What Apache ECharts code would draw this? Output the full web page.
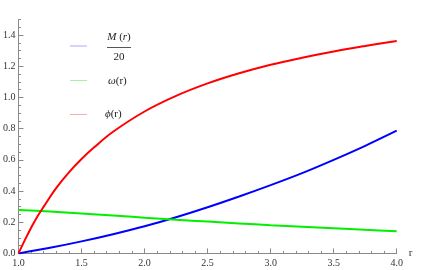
<!DOCTYPE html>
<html>
<head>
<meta charset="utf-8">
<script src="https://cdn.jsdelivr.net/npm/echarts@6/dist/echarts.min.js"></script>
<style>
html,body{margin:0;padding:0;background:#fff;}
#c{width:436px;height:270px;}
</style>
</head>
<body>
<div id="c"></div>
<script>
// Data
const rMass = [1.0, 1.25, 1.5, 1.75, 2.0, 2.25, 2.5, 2.75, 3.0, 3.25, 3.5, 3.75, 4.0];
const massOver20 = [0, 0.036, 0.077, 0.123, 0.174, 0.232, 0.296, 0.365, 0.438, 0.515, 0.6, 0.69, 0.787];

const rOmega = [1.0, 1.25, 1.5, 1.75, 2.0, 2.25, 2.5, 2.75, 3.0, 3.25, 3.5, 3.75, 4.0];
const omega = [0.279, 0.268, 0.256, 0.243, 0.229, 0.216, 0.204, 0.192, 0.181, 0.171, 0.161, 0.151, 0.142];

const rPhi = [1.0, 1.05, 1.1, 1.15, 1.2, 1.3, 1.4, 1.5, 1.6, 1.75, 2.0, 2.25, 2.5, 2.75, 3.0, 3.25, 3.5, 3.75, 4.0];
const phi = [0, 0.085, 0.165, 0.237, 0.30, 0.42, 0.52, 0.605, 0.68, 0.78, 0.91, 1.01, 1.09, 1.155, 1.21, 1.255, 1.295, 1.33, 1.362];

const xTicks = [1.0, 1.5, 2.0, 2.5, 3.0, 3.5, 4.0];
const yTicks = [0, 0.2, 0.4, 0.6, 0.8, 1.0, 1.2, 1.4];

const zip = (xs, ys) => xs.map((x, i) => [x, ys[i]]);

const chart = echarts.init(document.getElementById('c'), null, {renderer: 'canvas'});
const labelFont = {fontFamily: 'Liberation Serif', fontSize: 10, color: '#333'};
const tickColor = '#8a8a8a';
const ital = {fontStyle: 'italic', fontFamily: 'Liberation Serif', fontSize: 11, fill: '#222'};

chart.setOption({
  animation: false,
  grid: {left: 18, right: 39.3, top: 19.5, bottom: 16.6, containLabel: false},
  xAxis: {
    type: 'value', min: 1, max: 4, interval: 0.5,
    name: 'r', nameLocation: 'end', nameGap: 5,
    nameTextStyle: {fontFamily: 'Liberation Serif', fontSize: 11, color: '#333', verticalAlign: 'middle'},
    axisLine: {show: true, onZero: false, lineStyle: {color: tickColor, width: 1}},
    axisTick: {show: true, inside: true, length: 5, lineStyle: {color: tickColor}},
    minorTick: {show: true, splitNumber: 5, length: 2.5, lineStyle: {color: tickColor}},
    splitLine: {show: false},
    axisLabel: Object.assign({margin: 5, formatter: v => v.toFixed(1),
      customValues: xTicks}, labelFont)
  },
  yAxis: [{
    type: 'value', min: 0, max: 1.5, interval: 0.05, position: 'left',
    axisLine: {show: true, onZero: false, lineStyle: {color: tickColor, width: 1}},
    axisTick: {show: true, inside: true, length: 5, customValues: yTicks, lineStyle: {color: tickColor}},
    splitLine: {show: false},
    axisLabel: Object.assign({margin: 3, formatter: v => v.toFixed(1), customValues: yTicks}, labelFont)
  }, {
    type: 'value', min: 0, max: 1.5, interval: 0.05, position: 'left',
    axisLine: {show: false, onZero: false},
    axisTick: {show: true, inside: true, length: 2.5, lineStyle: {color: tickColor}},
    splitLine: {show: false},
    axisLabel: {show: false}
  }],
  series: [
    {name: 'M(r)/20', type: 'line', data: zip(rMass, massOver20), showSymbol: false, smooth: 0.3,
     lineStyle: {color: '#0000ff', width: 2}, itemStyle: {color: '#0000ff'}},
    {name: 'ω(r)', type: 'line', data: zip(rOmega, omega), showSymbol: false, smooth: 0.3,
     lineStyle: {color: '#00f000', width: 2}, itemStyle: {color: '#00f000'}},
    {name: 'ϕ(r)', type: 'line', data: zip(rPhi, phi), showSymbol: false, smooth: 0.4,
     lineStyle: {color: '#ff0000', width: 2}, itemStyle: {color: '#ff0000'}}
  ],
  graphic: [
    {type: 'line', shape: {x1: 70, y1: 46, x2: 87, y2: 46}, style: {stroke: '#a8a8ff', lineWidth: 1}},
    {type: 'line', shape: {x1: 70, y1: 80.5, x2: 87, y2: 80.5}, style: {stroke: '#a8f0a8', lineWidth: 1}},
    {type: 'line', shape: {x1: 70, y1: 114.5, x2: 87, y2: 114.5}, style: {stroke: '#ffaaaa', lineWidth: 1}},
    {type: 'text', x: 119, y: 37, style: {text: '{i|M} ({i|r})', align: 'center', verticalAlign: 'middle',
      fontFamily: 'Liberation Serif', fontSize: 11, fill: '#222', rich: {i: ital}}},
    {type: 'line', shape: {x1: 107, y1: 47.5, x2: 131, y2: 47.5}, style: {stroke: '#555', lineWidth: 1}},
    {type: 'text', x: 119, y: 57, style: {text: '20', align: 'center', verticalAlign: 'middle',
      fontFamily: 'Liberation Serif', fontSize: 11, fill: '#222'}},
    {type: 'text', x: 108, y: 81, style: {text: '{i|ω}(r)', align: 'left', verticalAlign: 'middle',
      fontFamily: 'Liberation Serif', fontSize: 11, fill: '#222', rich: {i: ital}}},
    {type: 'text', x: 105, y: 114.5, style: {text: '{i|ϕ}(r)', align: 'left', verticalAlign: 'middle',
      fontFamily: 'Liberation Serif', fontSize: 11, fill: '#222', rich: {i: ital}}}
  ]
});
</script>
</body>
</html>
